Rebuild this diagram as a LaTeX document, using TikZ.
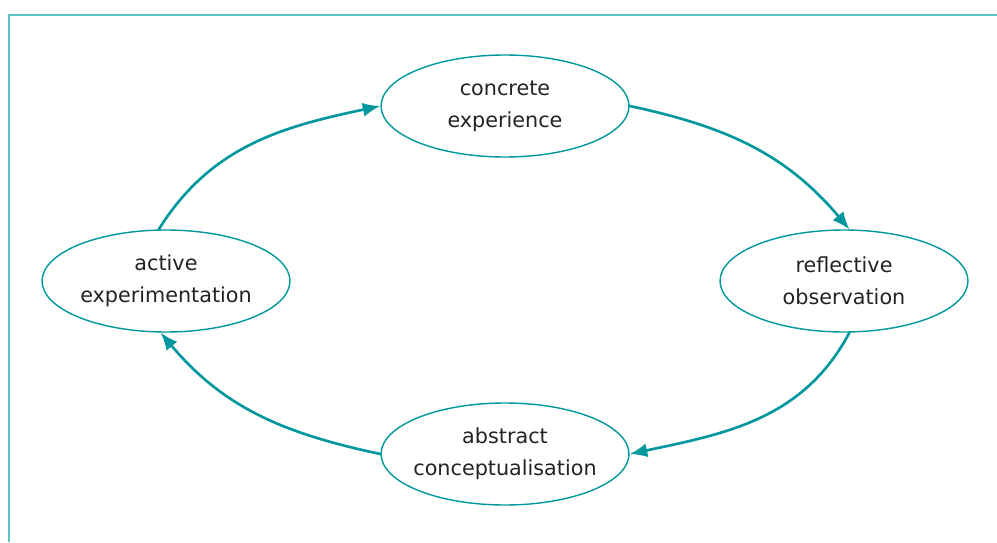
\documentclass[tikz,border=0pt]{standalone}
\usepackage{fontspec}
\setmainfont{DejaVu Sans}
\usepackage{tikz}
\usetikzlibrary{shapes.geometric,arrows.meta}
\definecolor{cyclecol}{RGB}{0,152,158}
\definecolor{framecol}{RGB}{95,195,195}
\definecolor{textcol}{RGB}{35,35,35}
\tikzset{
  stage/.style={ellipse, draw=cyclecol, line width=0.8pt, minimum width=4.96cm,
    minimum height=2.04cm, inner xsep=-3pt, inner ysep=0pt, align=center,
    text=textcol, font=\fontsize{11.8}{18.1}\selectfont},
  cyclearrow/.style={draw=cyclecol, line width=1.5pt,
    -{Latex[length=10pt,width=8pt]}}
}
\begin{document}
\begin{tikzpicture}[x=0.02cm, y=0.02cm, line cap=round]
  \useasboundingbox (0,0) rectangle (997,542);
  % frame
  \draw[framecol, line width=1.1pt, line cap=butt] (9,0) -- (9,527) -- (997,527);
  % the four stages
  \node[stage] (concrete) at (505,436) {concrete\\experience};
  \node[stage] (reflective) at (844,261) {reflective\\observation};
  \node[stage] (abstract) at (505,88) {abstract\\conceptualisation};
  \node[stage] (active) at (166,261) {active\\experimentation};
  % cycle
  \draw[cyclearrow] (active.98) to[out=58, in=192] (concrete.west);
  \draw[cyclearrow] (concrete.east) to[out=-12, in=130] (reflective.84);
  \draw[cyclearrow] (reflective.-84) to[out=-118, in=12] (abstract.east);
  \draw[cyclearrow] (abstract.west) to[out=168, in=-50] (active.-96);
\end{tikzpicture}
\end{document}
